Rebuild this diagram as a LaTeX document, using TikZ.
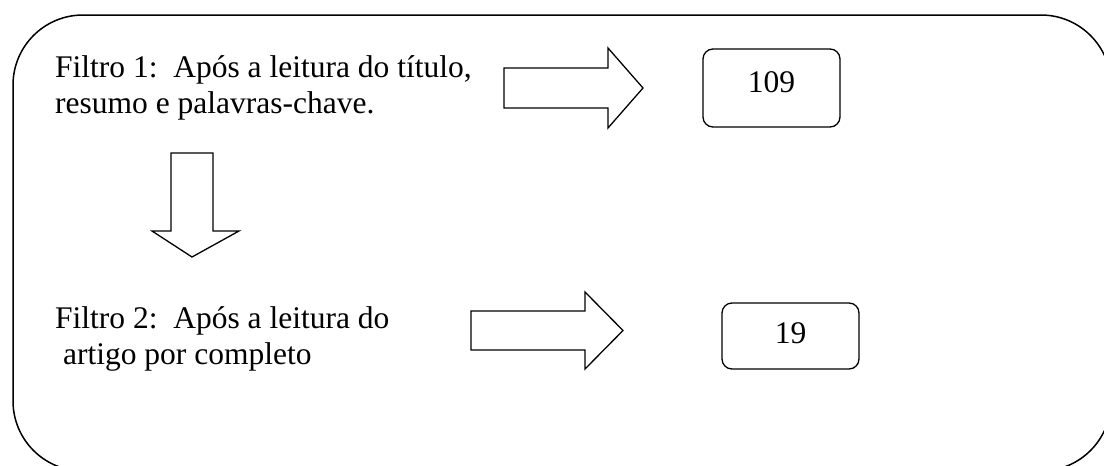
\documentclass[tikz,border=0pt]{standalone}
\usepackage{fontspec}
\setmainfont{Liberation Serif}
\begin{document}
\begin{tikzpicture}[x=1pt,y=-1pt,
  txt/.style={inner sep=0pt, anchor=base west, align=left, font=\fontsize{31.5}{36}\selectfont},
  numbox/.style={draw, line width=1.3pt, rounded corners=10pt, inner sep=0pt, minimum width=137pt, font=\fontsize{31.5}{36}\selectfont, text height=22pt},
  blockarrow/.style={draw, line width=1.3pt, line join=miter},
  frame/.style={draw, line width=1.5pt, rounded corners=70pt}]
\useasboundingbox (0,0) rectangle (1104,466);
\fill[white] (0,0) rectangle (1104,466);
% outer frame
\draw[frame] (13,15) rectangle (1111,471);
% texts (base anchor = baseline of last line)
\node[txt] (f1) at (55,113) {Filtro 1:\ \ Após a leitura do título,\\resumo e palavras-chave.};
\node[txt] (f2) at (55,364) {Filtro 2:\ \ Após a leitura do\\\hspace*{7.9pt}artigo por completo};
% number boxes
\node[numbox, minimum height=78pt, text depth=14pt] (b109) at (771.5,88) {109};
\node[numbox, minimum height=66pt, text depth=8pt] (b19) at (790.5,336) {19};
% block arrows
\draw[blockarrow] (504,68) -- (608,68) -- (608,48) -- (643,88) -- (608,128) -- (608,108) -- (504,108) -- cycle;
\draw[blockarrow] (471,311) -- (585,311) -- (585,292) -- (623,330.5) -- (585,369) -- (585,350) -- (471,350) -- cycle;
\draw[blockarrow] (171,153) -- (213,153) -- (213,231) -- (239,231) -- (192,257) -- (152,231) -- (171,231) -- cycle;
\end{tikzpicture}
\end{document}
